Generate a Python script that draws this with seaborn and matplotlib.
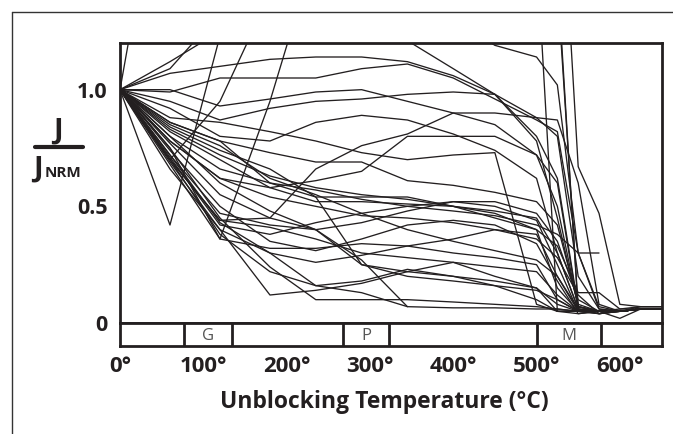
import numpy as np
import pandas as pd
import matplotlib.pyplot as plt
import seaborn as sns
from matplotlib.lines import Line2D

# demagnetisation steps (deg C)
temps = [0, 60, 120, 180, 235, 290, 345, 400, 450, 500, 525, 550, 575, 600, 625, 650]

# J / J_NRM, one list per specimen (NaN = no more steps)
nan = np.nan
# specimens that go off the top and unblock late
high_curves = [
	[1, 2.20, 2.60, 2.70, 2.70, 2.70, 2.60, 2.60, 2.50, 2.40, 2.20, 0.67, 0.47, 0.08, 0.07, 0.07],
	[1, 1.09, 1.33, 1.60, 1.80, 1.90, 1.90, 1.90, 1.80, 1.60, 0.05, 0.04, 0.05, 0.05, 0.06, 0.06],
	[1, 1.12, 1.25, 1.50, 1.60, 1.70, 1.70, 1.70, 1.70, 1.65, 1.50, 0.05, 0.04, 0.05, 0.06, 0.06],
	[1, 0.42, 1.23, 1.50, 1.70, 1.80, 1.80, 1.75, 1.70, 1.60, 1.45, 0.07, 0.05, 0.06, 0.06, 0.06],
	[1, 0.70, 0.95, 1.41, 1.50, 1.50, 1.45, 1.30, 1.19, 1.14, 1.02, 0.30, 0.07, 0.05, 0.06, 0.06],
	[1, 0.75, 0.36, 0.95, 1.60, 1.50, 1.21, 1.09, 0.98, 0.78, 0.45, 0.07, 0.05, 0.05, 0.06, 0.06],
]
# specimens that stay near 1 up to ~450
upper_curves = [
	[1, 1.07, 1.10, 1.13, 1.14, 1.14, 1.12, 1.06, 0.98, 0.80, 0.62, 0.07, 0.05, 0.05, 0.06, 0.06],
	[1, 0.99, 1.05, 1.05, 1.05, 1.09, 1.11, 1.05, 0.96, 0.87, 0.82, 0.30, 0.06, 0.05, 0.06, 0.06],
	[1, 1.00, 0.93, 0.96, 0.99, 1.00, 0.95, 0.90, 0.85, 0.72, 0.60, 0.06, 0.05, 0.05, 0.06, 0.06],
	[1, 0.95, 0.87, 0.92, 0.95, 0.96, 0.98, 0.99, 0.98, 0.88, 0.87, 0.60, 0.08, 0.05, 0.06, 0.06],
	[1, 0.92, 0.80, 0.78, 0.86, 0.89, 0.87, 0.81, 0.74, 0.62, 0.30, 0.06, 0.05, 0.05, 0.06, 0.06],
	[1, 0.70, 0.44, 0.45, 0.66, 0.76, 0.81, 0.90, 0.90, 0.88, 0.80, 0.20, 0.06, 0.05, 0.06, 0.06],
	[1, 0.78, 0.62, 0.58, 0.61, 0.65, 0.80, 0.80, 0.80, 0.72, 0.50, 0.07, 0.05, 0.05, 0.06, 0.06],
]
# specimens holding around 0.4 - 0.7
mid_curves = [
	[1, 0.86, 0.78, 0.73, 0.69, 0.69, 0.61, 0.59, 0.56, 0.52, 0.42, 0.08, 0.05, 0.05, 0.06, 0.06],
	[1, 0.84, 0.74, 0.66, 0.54, 0.54, 0.54, 0.50, 0.48, 0.45, 0.30, 0.06, 0.04, 0.05, 0.06, 0.06],
	[1, 0.82, 0.70, 0.58, 0.52, 0.52, 0.51, 0.50, 0.47, 0.40, 0.15, 0.05, 0.05, 0.05, 0.06, 0.06],
	[1, 0.78, 0.62, 0.54, 0.50, 0.46, 0.45, 0.43, 0.40, 0.36, 0.28, 0.12, 0.04, 0.05, 0.06, 0.06],
	[1, 0.85, 0.76, 0.62, 0.55, 0.47, 0.40, 0.35, 0.31, 0.27, 0.20, 0.06, 0.05, 0.05, 0.06, 0.06],
	[1, 0.77, 0.55, 0.45, 0.40, 0.43, 0.48, 0.52, 0.52, 0.47, 0.35, 0.10, 0.05, 0.05, 0.06, 0.06],
	[1, 0.88, 0.86, 0.82, 0.78, 0.73, 0.70, 0.72, 0.73, 0.08, 0.05, 0.05, 0.05, 0.05, 0.06, 0.06],
	[1, 0.80, 0.66, 0.60, 0.57, 0.53, 0.50, 0.48, 0.46, 0.42, 0.38, 0.30, 0.30, nan, nan, nan],
	[1, 0.83, 0.72, 0.63, 0.58, 0.55, 0.53, 0.50, 0.45, 0.40, 0.33, 0.13, 0.13, 0.06, 0.07, 0.07],
]
# specimens that lose most of their remanence early
low_curves = [
	[1, 0.70, 0.44, 0.41, 0.36, 0.30, 0.28, 0.26, 0.24, 0.22, 0.12, 0.05, 0.05, 0.05, 0.06, 0.06],
	[1, 0.69, 0.40, 0.30, 0.26, 0.29, 0.33, 0.36, 0.40, 0.38, 0.20, 0.05, 0.04, 0.05, 0.06, 0.06],
	[1, 0.68, 0.36, 0.32, 0.32, 0.34, 0.33, 0.30, 0.28, 0.25, 0.10, 0.05, 0.05, 0.05, 0.06, 0.06],
	[1, 0.70, 0.38, 0.22, 0.16, 0.18, 0.23, 0.20, 0.18, 0.15, 0.08, 0.05, 0.05, 0.05, 0.06, 0.06],
	[1, 0.66, 0.40, 0.12, 0.14, 0.17, 0.22, 0.26, 0.20, 0.15, 0.05, 0.05, 0.05, 0.05, 0.06, 0.06],
	[1, 0.72, 0.43, 0.30, 0.16, 0.13, 0.07, 0.065, 0.065, 0.06, 0.06, 0.05, 0.05, 0.05, 0.06, 0.06],
	[1, 0.75, 0.45, 0.24, 0.10, 0.10, 0.10, 0.09, 0.08, 0.07, 0.06, 0.05, 0.05, 0.05, 0.06, 0.06],
	[1, 0.80, 0.60, 0.48, 0.40, 0.25, 0.20, 0.18, 0.16, 0.14, 0.10, 0.05, 0.05, 0.05, 0.06, 0.06],
	[1, 0.86, 0.78, 0.60, 0.54, 0.25, 0.22, 0.20, 0.16, 0.10, 0.05, 0.05, 0.05, 0.05, 0.06, 0.06],
	[1, 0.72, 0.47, 0.42, 0.40, 0.27, 0.07, nan, nan, nan, nan, nan, nan, nan, nan, nan],
	[1, 0.74, 0.50, 0.35, 0.31, 0.36, 0.42, 0.44, 0.42, 0.34, 0.18, 0.04, 0.05, 0.05, 0.07, 0.07],
	[1, 0.71, 0.42, 0.38, 0.43, 0.47, 0.50, 0.52, 0.50, 0.44, 0.25, 0.05, 0.05, 0.02, 0.06, 0.06],
]

# blocking ranges shown in the strip below the plot
band_names = ["G", "P", "M"]
band_lo = [77, 268, 500]
band_hi = [135, 323, 577]

tick_temps = [0, 100, 200, 300, 400, 500, 600]

rows = []
for k, curve in enumerate(high_curves + upper_curves + mid_curves + low_curves):
	for t, v in zip(temps, curve):
		rows.append({"specimen": k, "temp": t, "ratio": v})
df = pd.DataFrame(rows).dropna()

sns.set_style("white")
plt.rcParams["font.family"] = ["Open Sans", "DejaVu Sans"]
ink = "#231f20"

W, H = 673, 434
fig = plt.figure(figsize=(W / 100, H / 100), dpi=100)

def fx(px):
	return px / W

def fy(py):
	return 1 - py / H

# main panel
ax = fig.add_axes([fx(120), fy(323), fx(661.5) - fx(120), fy(43) - fy(323)])
sns.lineplot(data=df, x="temp", y="ratio", units="specimen", estimator=None,
	color=ink, lw=0.95, legend=False, ax=ax)
ax.set_xlim(0, 650)
ax.set_ylim(0, 1.2)
ax.set_xlabel("")
ax.set_ylabel("")
for side in ["top", "right", "left", "bottom"]:
	ax.spines[side].set_color(ink)
	ax.spines[side].set_linewidth(2.0)
ax.set_xticks(tick_temps[1:])
ax.tick_params(axis="x", direction="in", length=6, width=1.6, color=ink, labelbottom=False)
ax.set_yticks([0, 0.5, 1.0])
ax.set_yticklabels(["0", "0.5", "1.0"])
ax.tick_params(axis="y", direction="inout", length=8, width=1.0, color=ink, pad=5,
	labelsize=15.5, labelcolor=ink)
for lab in ax.get_yticklabels():
	lab.set_fontweight("bold")

# strip with G / P / M bands
sx = fig.add_axes([fx(120), fy(346), fx(661.5) - fx(120), fy(323) - fy(346)])
sx.set_xlim(0, 650)
sx.set_ylim(0, 1)
sx.set_yticks([])
for side in ["top", "right", "left", "bottom"]:
	sx.spines[side].set_color(ink)
	sx.spines[side].set_linewidth(2.0)
for name, lo, hi in zip(band_names, band_lo, band_hi):
	sx.axvline(lo, color=ink, lw=2.0)
	sx.axvline(hi, color=ink, lw=2.0)
	sx.text((lo + hi) / 2, 0.42, name, ha="center", va="center", fontsize=12,
		color="#555555")
sx.set_xticks(tick_temps)
sx.set_xticklabels([f"{t}°" for t in tick_temps])
sx.tick_params(axis="x", length=0, pad=7, labelsize=16, labelcolor=ink)
for lab in sx.get_xticklabels():
	lab.set_fontweight("bold")

fig.text(fx(384), fy(402), "Unblocking Temperature (°C)", ha="center", va="center",
	fontsize=16.5, fontweight="bold", color=ink)

# J / J_NRM label
fig.text(fx(58), fy(131), "J", ha="center", va="center", fontsize=21,
	fontweight="bold", color=ink)
fig.add_artist(Line2D([fx(35), fx(83)], [fy(147), fy(147)], color=ink, lw=3.0))
fig.text(fx(38), fy(169), "J", ha="center", va="center", fontsize=21,
	fontweight="bold", color=ink)
fig.text(fx(45), fy(173), "NRM", ha="left", va="center", fontsize=11,
	fontweight="bold", color=ink)

# outer frame (top and left only)
fig.add_artist(Line2D([fx(12), fx(673)], [fy(12), fy(12)], color="#333333", lw=1.0))
fig.add_artist(Line2D([fx(12), fx(12)], [fy(12), fy(434)], color="#333333", lw=1.0))

fig.savefig("out.png", dpi=100)
